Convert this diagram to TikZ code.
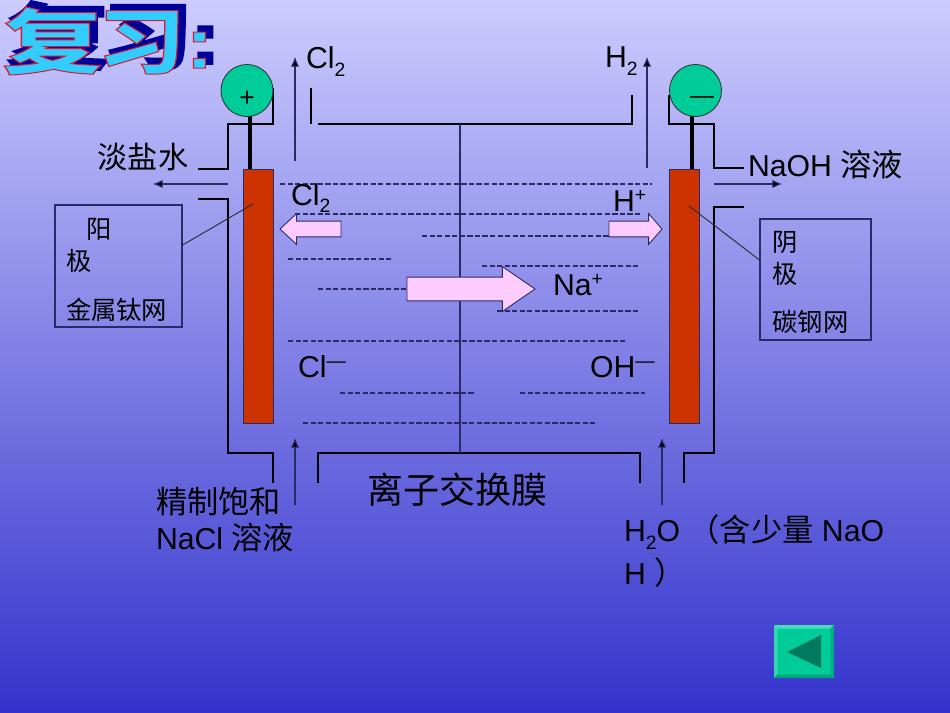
\documentclass[tikz,border=0pt]{standalone}
\usepackage{fontspec}
\usepackage{tikz}
\usetikzlibrary{arrows.meta,calc,shapes.arrows}
\setmainfont{Liberation Sans}
\newfontfamily\zhfont{Noto Sans CJK SC}
\definecolor{CellTop}{HTML}{CCCCFF}
\definecolor{CellBottom}{HTML}{3333CC}
\definecolor{CellInk}{HTML}{2A2A66}
\definecolor{CellPlate}{HTML}{CC3300}
\definecolor{CellCap}{HTML}{00CC99}
\definecolor{CellPink}{HTML}{FFCCFF}
\definecolor{TitleCyan}{HTML}{33CCFF}
\definecolor{TitleNavy}{HTML}{000099}
\newcommand{\zh}[1]{{\zhfont\fontsize{17.8}{20}\selectfont #1}}
\newcommand{\lowtwo}{\raisebox{-4.5pt}{\fontsize{11}{11}\selectfont 2}}
\newcommand{\highsign}[1]{\raisebox{5.2pt}{\fontsize{11}{11}\selectfont #1}}
% outlined glyphs: stroke rgb, stroke width, fill colour, text
\newcommand{\strokedtext}[4]{{\color{#3}\special{pdf:code q #1 RG #2 w 2 Tr}#4\special{pdf:code 0 Tr Q}}}
\newcommand{\titletext}[3]{\zhfont\bfseries\fontsize{51}{51}\selectfont
  \strokedtext{#1}{#2}{#3}{\scalebox{1.12}[0.8]{复}}\hspace{-3pt}%
  \strokedtext{#1}{#2}{#3}{\scalebox{0.98}[0.8]{习}}%
  \strokedtext{#1}{#2}{#3}{\scalebox{0.95}[0.8]{\rmfamily :}}}

\begin{document}
\begin{tikzpicture}[
      x=0.02cm, y=-0.02cm,
      every node/.style={inner sep=0pt, outer sep=0pt},
      txt/.style={anchor=base west, font=\fontsize{17.2}{20}\selectfont},
      zhtxt/.style={font=\zhfont\fontsize{17.2}{20}\selectfont},
      wall/.style={line width=1.1pt, draw=black},
      plate/.style={draw=CellInk, fill=CellPlate, line width=0.5pt, minimum width=0.6cm, minimum height=5.08cm},
      polecap/.style={circle, draw=black!80, fill=CellCap, line width=0.5pt, minimum size=1.04cm},
      stem/.style={line width=1.9pt, draw=black},
      flow/.style={draw=CellInk, line width=0.6pt, -{Latex[length=5.5pt,width=4.8pt,fill=black]}},
      brine/.style={draw=CellInk, line width=0.7pt, dash pattern=on 3pt off 1.3pt},
      ionarrow/.style={single arrow, draw=CellInk, fill=CellPink, line width=0.5pt, anchor=tip},
      notebox/.style={draw=CellInk, line width=0.6pt, align=left, font=\zhfont\fontsize{14.4}{18.1}\selectfont},
      leader/.style={draw=black!85, line width=0.5pt}
    ]
    \shade[top color=CellTop, bottom color=CellBottom] (0,0) rectangle (950,713);
    \useasboundingbox (0,0) rectangle (950,713);

    \node (titleshadow) at (114,36) {\titletext{0 0 0.6}{2.4}{TitleNavy}};
    \node (title) at (108,41) {\titletext{0.85 0.1 0.2}{0.7}{TitleCyan}};

    % cell walls
    \draw[wall] (198,169) -- (228,169) -- (228,124) -- (273,124) -- (273,88);
    \draw[wall] (198,199) -- (228,199) -- (228,453) -- (273,453) -- (273,483);
    \draw[wall] (311,88) -- (311,124);
    \draw[wall] (318,124) -- (632,124) -- (632,95);
    \draw[wall] (318,483) -- (318,453) -- (640,453) -- (640,483);
    \draw[wall] (744,168) -- (714,168) -- (714,124) -- (669,124) -- (669,95);
    \draw[wall] (744,207) -- (714,207) -- (714,453) -- (684,453) -- (684,483);
    \draw[draw=CellInk, line width=0.7pt] (460,124) -- (460,453);

    \node[plate] (anodeplate) at (258,296) {};
    \node[plate] (cathodeplate) at (684,296) {};
    \coordinate (anodestem) at (250,116);
    \coordinate (cathodestem) at (692,116);
    \draw[stem] (anodestem) -- (anodestem |- anodeplate.north);
    \draw[stem] (cathodestem) -- (cathodestem |- cathodeplate.north);
    \node[polecap, font=\fontsize{15}{15}\selectfont] (anodecap) at (247,90.5) {\raisebox{-9.25pt}[0pt][0pt]{+}};
    \node[polecap, font=\fontsize{13.6}{14}\selectfont] (cathodecap) at (695.5,90.5) {\hspace*{0.26cm}\raisebox{-7.4pt}[0pt][0pt]{—}};

    % brine
    \draw[brine] (280,184) -- (652,184);
    \draw[brine] (295,214) -- (640,214);
    \draw[brine] (422,236) -- (610,236);
    \draw[brine] (288,259) -- (392,259);
    \draw[brine] (482,266) -- (640,266);
    \draw[brine] (318,289) -- (408,289);
    \draw[brine] (497,311) -- (640,311);
    \draw[brine] (288,341) -- (625,341);
    \draw[brine] (340,393) -- (475,393);
    \draw[brine] (520,393) -- (645,393);
    \draw[brine] (303,423) -- (595,423);

    \node[ionarrow, shape border rotate=180, inner ysep=0.15cm, single arrow head extend=0.15cm, minimum height=1.22cm, single arrow tip angle=86] (chlorarrow) at (280,229) {};
    \node[ionarrow, inner ysep=0.15cm, single arrow head extend=0.15cm, minimum height=1.06cm, single arrow tip angle=98] (hydroarrow) at (662,229) {};
    \node[ionarrow, inner ysep=0.23cm, single arrow head extend=0.21cm, minimum height=2.56cm, single arrow tip angle=69] (sodiumarrow) at (535,289) {};

    \coordinate (chlorout) at (295,57);
    \coordinate (chlorin) at (295,161);
    \coordinate (hydroout) at (647,57);
    \coordinate (hydroin) at (647,168);
    \coordinate (leanout) at (153,184);
    \coordinate (leanin) at (228,184);
    \coordinate (lyeout) at (782,184);
    \coordinate (lyein) at (714,184);
    \coordinate (brineup) at (295,438);
    \coordinate (brinein) at (295,505);
    \coordinate (waterup) at (662,438);
    \coordinate (waterin) at (662,505);
    \draw[flow] (chlorin) -- (chlorout);
    \draw[flow] (hydroin) -- (hydroout);
    \draw[flow] (leanin) -- (leanout);
    \draw[flow] (lyein) -- (lyeout);
    \draw[flow] (brinein) -- (brineup);
    \draw[flow] (waterin) -- (waterup);

    \node[txt] (chlorgas) at (306,69) {Cl\lowtwo};
    \node[txt] (hydrogas) at (605,68) {H\lowtwo};
    \node[zhtxt] (leanbrine) at (143,157) {淡盐水};
    \node[txt] (lye) at (748,176) {NaOH \zh{溶液}};
    \node[txt] (chlormid) at (291,205) {Cl\lowtwo};
    \node[txt] (hydroion) at (613,211) {H\highsign{+}};
    \node[txt] (sodiumion) at (553,295) {Na\highsign{+}};
    \node[txt] (chlorideion) at (298,377) {Cl\highsign{—}};
    \node[txt] (hydroxideion) at (590,377) {OH\highsign{—}};

    \node[notebox, text width=2.1cm, minimum height=2.44cm, minimum width=2.54cm] (anodebox) at (118.5,266) {\rule{0pt}{16pt}\hspace*{0.4cm}阳\\极\\[9.5pt]金属钛网};
    \node[notebox, text width=1.72cm, minimum height=2.42cm, minimum width=2.22cm] (cathodebox) at (815.5,279.5) {\rule{0pt}{15pt}阴\\极\\[9.5pt]碳钢网};
    \coordinate (anodepoint) at (253,204);
    \coordinate (cathodepoint) at (689,206);
    \draw[leader] (anodebox.18) -- (anodepoint);
    \draw[leader] (cathodebox.161) -- (cathodepoint);

    \node[anchor=base west, align=left, font=\fontsize{17.2}{20.4}\selectfont] (brinefeed) at (156,549) {\zh{精制饱和}\\NaCl \zh{溶液}};
    \node[font=\zhfont\fontsize{20.5}{24}\selectfont] (membrane) at (457.5,490) {离子交换膜};
    \node[anchor=base west, align=left, font=\fontsize{17.2}{24}\selectfont] (waterfeed) at (624,584) {H\lowtwo O \zh{（含少量} NaO\\H \zh{）}};

    % back button
    \node[fill=CellCap, minimum width=1.2cm, minimum height=1.06cm] (backbutton) at (804,651.5) {};
    \fill[CellCap!70!white] (backbutton.north west) -- (backbutton.north east) -- ++(-3.5,3.5) -- ($(backbutton.north west)+(3.5,3.5)$) -- cycle;
    \fill[CellCap!80!white] (backbutton.north west) -- (backbutton.south west) -- ++(3.5,-3.5) -- ($(backbutton.north west)+(3.5,3.5)$) -- cycle;
    \fill[CellCap!80!black] (backbutton.south east) -- (backbutton.south west) -- ++(3.5,-3.5) -- ($(backbutton.south east)+(-3.5,-3.5)$) -- cycle;
    \fill[CellCap!85!black] (backbutton.south east) -- (backbutton.north east) -- ++(-3.5,3.5) -- ($(backbutton.south east)+(-3.5,-3.5)$) -- cycle;
    \fill[CellCap!60!black] (787,652) -- (821,635) -- (821,668) -- cycle;
  \end{tikzpicture}
\end{document}
